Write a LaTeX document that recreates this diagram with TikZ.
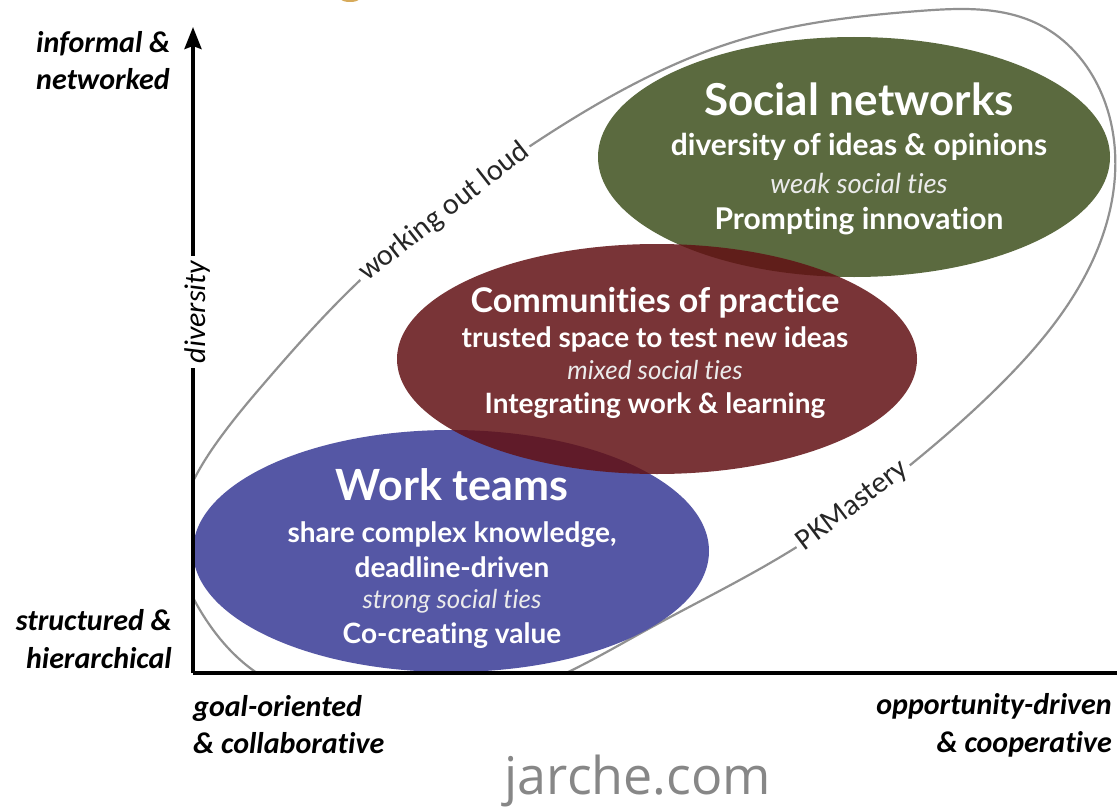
\documentclass[tikz,border=0pt]{standalone}
\usepackage{fontspec}
\newfontfamily\lato[Ligatures=NoCommon]{Lato}
\newfontfamily\carl[Ligatures=NoCommon]{Carlito}
\newfontfamily\osans{Open Sans}
\usetikzlibrary{arrows.meta,hobby}
\definecolor{wtblue}{RGB}{85,87,165}
\definecolor{cpred}{RGB}{98,17,20}
\definecolor{sngreen}{RGB}{91,106,63}
\definecolor{rimgray}{RGB}{145,145,145}
\definecolor{markgray}{RGB}{135,135,135}
\definecolor{blobor}{RGB}{215,170,90}
\begin{document}
\begin{tikzpicture}[x=1pt,y=-1pt,
  btxt/.style={text=white,anchor=base,inner sep=0pt,font={\lato\bfseries\fontsize{#1}{#1}\selectfont}},
  itxt/.style={text=white!92!black,anchor=base,inner sep=0pt,font={\lato\itshape\fontsize{#1}{#1}\selectfont}},
  axlab/.style={inner sep=0pt,font={\carl\bfseries\itshape\fontsize{30}{36}\selectfont}},
  rimlab/.style={fill=white,inner sep=4pt,text=black!85,font={\carl\fontsize{30}{30}\selectfont}},
  rim/.style={draw=rimgray,line width=2.2pt},
  axis/.style={line width=3.5pt,black}
]
\useasboundingbox (0,0) rectangle (1120,808);
\fill[white] (0,0) rectangle (1120,808);
\fill[blobor] (350,-1) ellipse [x radius=9pt, y radius=3pt];

% social networks ellipse
\fill[sngreen] (854,157) ellipse [x radius=256pt, y radius=120pt];

% outer rim
\begin{scope}
\clip (193,0) rectangle (1120,673);
\draw[rim, use Hobby shortcut, closed=true]
 (178,545) .. (215,445) .. (267,380) .. (353,287) .. (442,210) .. (574,118)
 .. (740,40) .. (919,11) .. (1040,25) .. (1100,90) .. (1115,175)
 .. (1080,285) .. (1000,385) .. (920,457) .. (787,553) .. (650,628)
 .. (520,692) .. (340,704) .. (257,673) .. (203,615);
\end{scope}

% work teams & communities ellipses
\fill[wtblue] (451,551) ellipse [x radius=258pt, y radius=121pt];
\fill[cpred, opacity=0.85] (657,359) ellipse [x radius=260pt, y radius=115pt];

% rim labels
\node[rimlab, rotate=38] (wol) at (444,212) {working out loud};
\node[rimlab, rotate=37] (pkm) at (853,506) {PKMastery};

% axes
\coordinate (O) at (193,673);
\coordinate (Ytop) at (193,27);
\coordinate (Xend) at (1117,673);
\draw[axis, line cap=butt] (O) -- (Xend);
\draw[axis, -{Stealth[length=22pt,width=17pt,inset=3pt]}] (O) -- (Ytop);
\node[fill=white, rotate=90, inner sep=5pt, font={\carl\itshape\fontsize{30}{30}\selectfont}] (div) at (197,312) {diversity};

% axis end labels
\node[axlab, anchor=base west] (inf1) at (36,53) {informal \&};
\node[axlab, anchor=base west] (inf2) at (36,90) {networked};
\node[axlab, anchor=base east] (str1) at (172,630) {structured \&};
\node[axlab, anchor=base east] (str2) at (172,668) {hierarchical};
\node[axlab, anchor=base west] (goal1) at (193,716) {goal-oriented};
\node[axlab, anchor=base west] (goal2) at (193,753) {\& collaborative};
\node[axlab, anchor=base east] (opp1) at (1112,714) {opportunity-driven};
\node[axlab, anchor=base east] (opp2) at (1112,752) {\& cooperative};

% social networks text
\node[btxt=44] (sn1) at (859,115) {Social networks};
\node[btxt=30] (sn2) at (859,155) {diversity of ideas \& opinions};
\node[itxt=27.5] (sn3) at (859,193) {weak social ties};
\node[btxt=30] (sn4) at (859,229) {Prompting innovation};

% communities text
\node[btxt=34] (cp1) at (655,312) {Communities of practice};
\node[btxt=28] (cp2) at (655,347) {trusted space to test new ideas};
\node[itxt=26] (cp3) at (655,379) {mixed social ties};
\node[btxt=28] (cp4) at (655,413) {Integrating work \& learning};

% work teams text
\node[btxt=43] (wt1) at (452,500) {Work teams};
\node[btxt=28] (wt2) at (452,542) {share complex knowledge,};
\node[btxt=28] (wt3) at (452,577) {deadline-driven};
\node[itxt=26] (wt4) at (452,608) {strong social ties};
\node[btxt=28] (wt5) at (452,643) {Co-creating value};

% watermark
\node[anchor=base, inner sep=0pt, text=markgray, font={\osans\fontsize{52}{52}\selectfont}] (mark) at (638,794) {jarche.com};
\end{tikzpicture}
\end{document}
